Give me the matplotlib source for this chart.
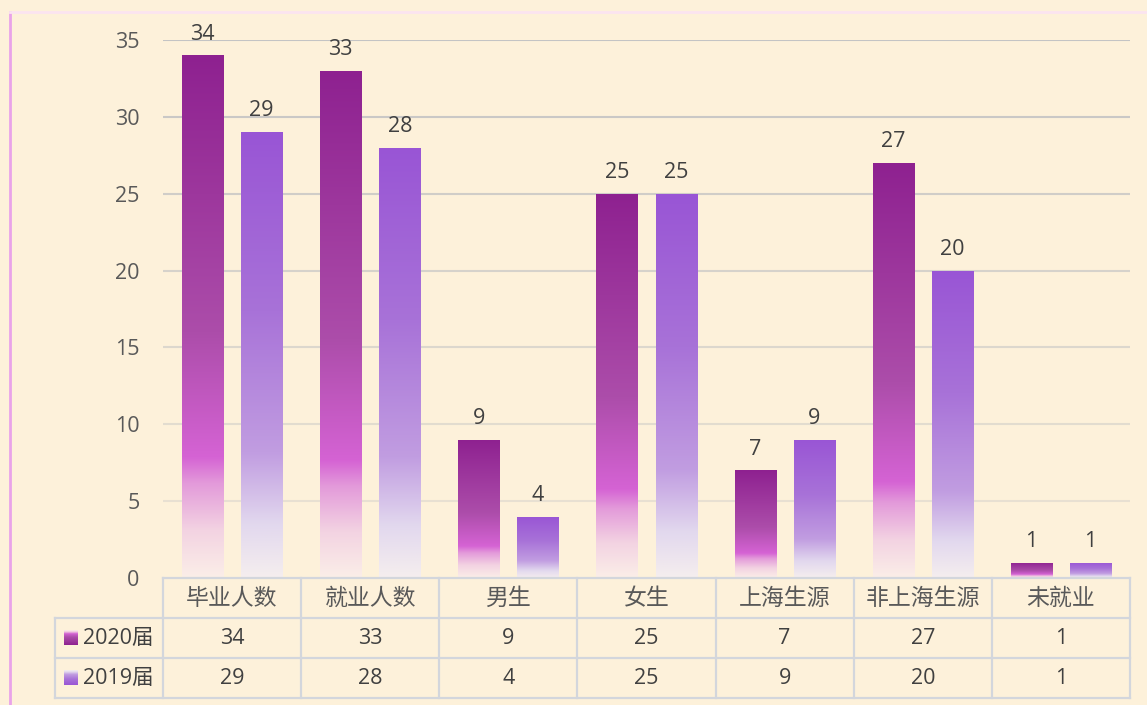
import numpy as np
import matplotlib.pyplot as plt
from matplotlib.colors import LinearSegmentedColormap
from matplotlib.lines import Line2D

plt.rcParams['font.family'] = ['Open Sans', 'Noto Sans CJK SC', 'DejaVu Sans']

categories = ['毕业人数', '就业人数', '男生', '女生', '上海生源', '非上海生源', '未就业']
series_names = ['2020届', '2019届']
values_2020 = [34, 33, 9, 25, 7, 27, 1]
values_2019 = [29, 28, 4, 25, 9, 20, 1]
y_ticks = [0, 5, 10, 15, 20, 25, 30, 35]

bg = '#FDF1DA'
text_col = '#404040'
grid_col = '#C4C4C4'
table_col = '#D3D6DC'
cjk = ['Noto Sans CJK SC', 'DejaVu Sans']

cmap_2020 = LinearSegmentedColormap.from_list('c2020', [
    (0.0, '#FBEEE8'), (0.09, '#F3D3E2'), (0.18, '#E39ADA'), (0.23, '#D563D4'),
    (0.47, '#AC4DAA'), (1.0, '#8E2190')])
cmap_2019 = LinearSegmentedColormap.from_list('c2019', [
    (0.0, '#F5EEEE'), (0.12, '#E2D8EE'), (0.28, '#C19DE1'), (0.6, '#A872D8'),
    (1.0, '#9955D5')])

W, H = 1147, 705
fig = plt.figure(figsize=(W / 100, H / 100), dpi=100, facecolor=bg)

# frame lines
fig.add_artist(Line2D([10 / W, 10 / W], [0, 1 - 12 / H], transform=fig.transFigure,
                      color='#E9A3E9', lw=2))
fig.add_artist(Line2D([10 / W, 1], [1 - 12 / H, 1 - 12 / H], transform=fig.transFigure,
                      color='#FBE4F0', lw=2))

ax_left, ax_right = 163, 1130
ax_top, ax_bot = 40, 578
ax = fig.add_axes([ax_left / W, 1 - ax_bot / H, (ax_right - ax_left) / W, (ax_bot - ax_top) / H])
ax.set_facecolor('none')

x = np.arange(len(categories))
off = 0.214
bw = 0.297
grad = np.linspace(0, 1, 256).reshape(-1, 1)

for vals, sign, cmap in [(values_2020, -1, cmap_2020), (values_2019, 1, cmap_2019)]:
    bars = ax.bar(x + sign * off, vals, width=bw, color='none', zorder=2)
    for b, v in zip(bars, vals):
        x0, w, h = b.get_x(), b.get_width(), b.get_height()
        im = ax.imshow(grad, cmap=cmap, origin='lower', aspect='auto',
                       extent=[x0, x0 + w, 0, h], interpolation='bilinear', zorder=2)
        im.set_clip_path(b)
        ax.text(x0 + w / 2, h + 0.7, str(v), ha='center', va='bottom',
                fontsize=15.5, color=text_col)

for t in y_ticks[1:]:
    a = 0.25 + 0.75 * t / 35
    ax.axhline(t, color=grid_col, lw=1.5, alpha=a, zorder=1)

ax.set_xlim(-0.5, len(categories) - 0.5)
ax.set_ylim(0, 35)
ax.set_yticks(y_ticks)
ax.set_yticklabels([str(t) for t in y_ticks])
ax.tick_params(axis='y', length=0, pad=17, labelsize=15.5, labelcolor='#595959')
ax.set_xticks([])
for s in ax.spines.values():
    s.set_visible(False)

# data table below
cat_w = (ax_right - ax_left) / len(categories)
lab_w = (ax_left - 55) / cat_w
tab = fig.add_axes([55 / W, 1 - 698 / H, (ax_right - 55) / W, 120 / H])
tab.set_facecolor('none')
tab.set_xlim(-0.5 - lab_w, len(categories) - 0.5)
tab.set_ylim(3, 0)
tab.axis('off')

xr = len(categories) - 0.5
lw = 1.6
tab.plot([-0.5, xr], [0, 0], color=table_col, lw=lw, clip_on=False)
for r in [1, 2, 3]:
    tab.plot([-0.5 - lab_w, xr], [r, r], color=table_col, lw=lw, clip_on=False)
tab.plot([-0.5 - lab_w, -0.5 - lab_w], [1, 3], color=table_col, lw=lw, clip_on=False)
for k in range(len(categories) + 1):
    tab.plot([-0.5 + k, -0.5 + k], [0, 3], color=table_col, lw=lw, clip_on=False)

for i, c in enumerate(categories):
    tab.text(i, 0.52, c, ha='center', va='center', fontsize=16.5, color='#595959',
             family=cjk)

sq_w = 14 / cat_w
for r, (name, vals, cmap) in enumerate([(series_names[0], values_2020, cmap_2020),
                                        (series_names[1], values_2019, cmap_2019)], start=1):
    sx = -0.5 - lab_w + 9 / cat_w
    tab.imshow(grad[::-1][64:], cmap=cmap, aspect='auto', origin='lower',
               extent=[sx, sx + sq_w, r + 0.68, r + 0.32], interpolation='bilinear')
    tab.text(sx + sq_w + 5 / cat_w, r + 0.5, name, ha='left', va='center',
             fontsize=15.5, color=text_col)
    for i, v in enumerate(vals):
        tab.text(i, r + 0.5, str(v), ha='center', va='center', fontsize=15.5, color=text_col)

tab.set_xlim(-0.5 - lab_w, len(categories) - 0.5)
tab.set_ylim(3, 0)

fig.savefig('out.png', dpi=100, facecolor=bg)
